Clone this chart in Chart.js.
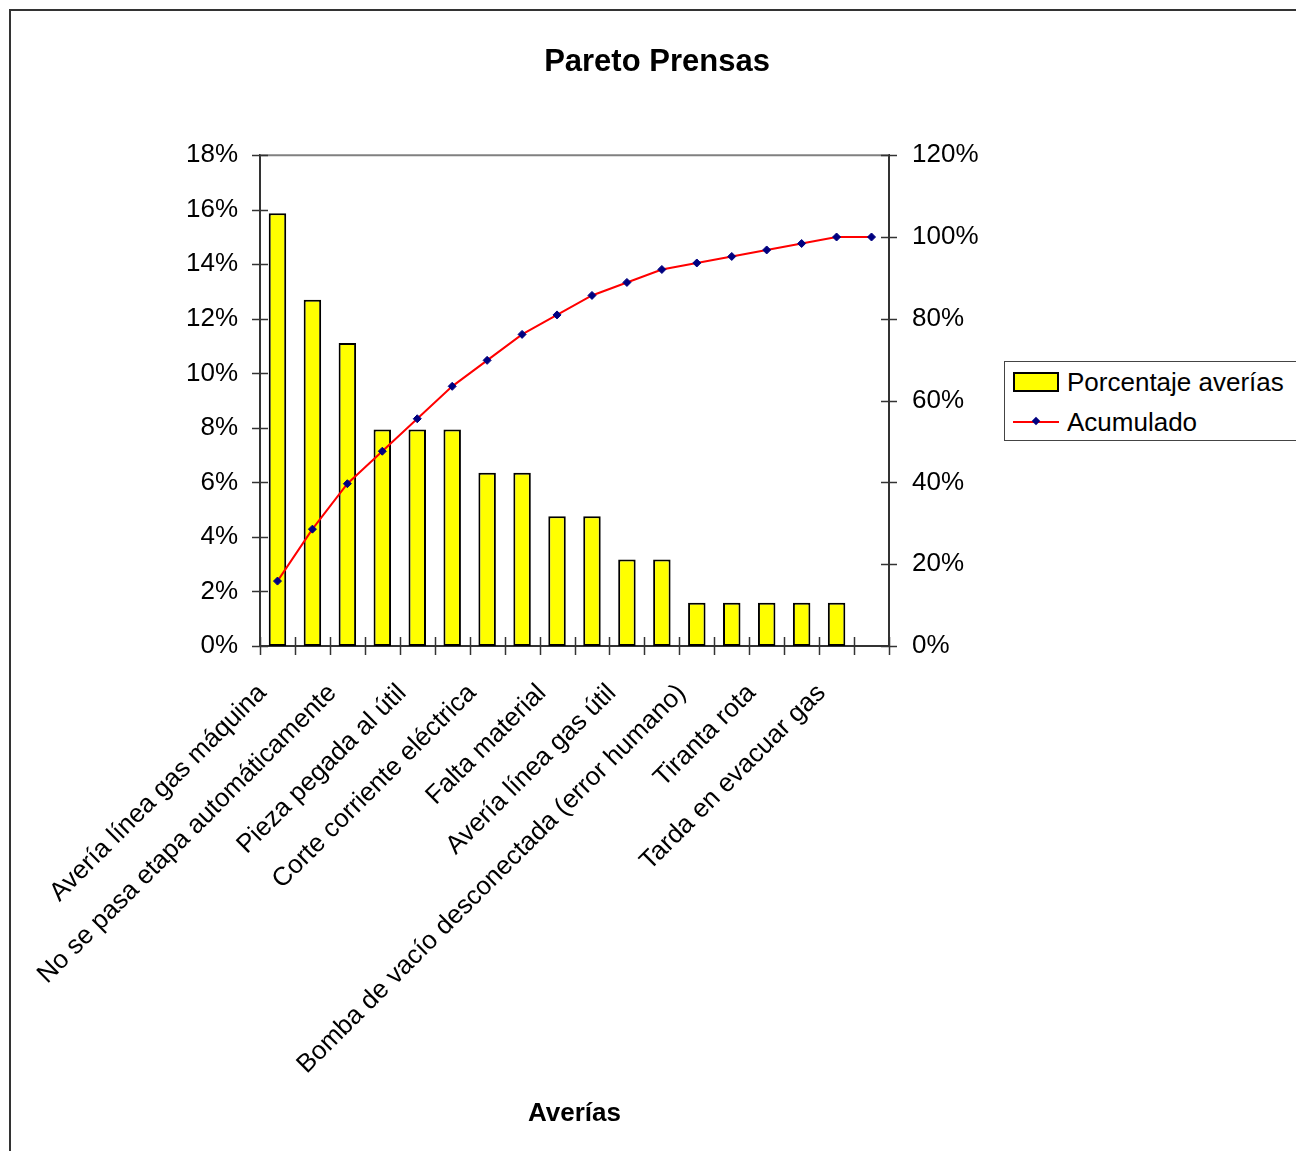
<!DOCTYPE html>
<html>
<head>
<meta charset="utf-8">
<script src="https://cdn.jsdelivr.net/npm/chart.js@4.4.0/dist/chart.umd.min.js"></script>
<style>
  html, body { margin: 0; padding: 0; background: #fff; overflow: hidden; }
  body { width: 1296px; height: 1151px; position: relative; font-family: Arial, "Liberation Sans", sans-serif; }
  #frame { position: absolute; left: 9px; top: 9px; width: 1400px; height: 1300px; border: 2px solid #333; pointer-events: none; }
  #chart { position: absolute; left: 0; top: 0; }
  #legend { position: absolute; left: 1004px; top: 361px; width: 330px; height: 78px; border: 1px solid #444; background: #fff; }
  .item { position: absolute; left: 8px; height: 30px; display: flex; align-items: center; font-size: 26px; color: #000; }
  .box { width: 42px; height: 16px; background: #ffff00; border: 2px solid #000; margin-right: 8px; }
  .ln { width: 46px; height: 2px; background: #ff0000; margin-right: 8px; position: relative; }
  .ln::after { content: ''; position: absolute; left: 20px; top: -3px; width: 6px; height: 6px; background: #000080; transform: rotate(45deg); }
</style>
</head>
<body>
<canvas id="chart" width="1296" height="1151"></canvas>
<div id="frame"></div>
<div id="legend">
  <div class="item" style="top:5px"><span class="box"></span>Porcentaje averías</div>
  <div class="item" style="top:45px"><span class="ln"></span>Acumulado</div>
</div>
<script>
// categories (only every other name is shown on the axis)
const categories = [
  'Avería línea gas máquina', '',
  'No se pasa etapa automáticamente', '',
  'Pieza pegada al útil', '',
  'Corte corriente eléctrica', '',
  'Falta material', '',
  'Avería línea gas útil', '',
  'Bomba de vacío desconectada (error humano)', '',
  'Tiranta rota', '',
  'Tarda en evacuar gas', ''
];
// % of failures per category
const porcentaje = [15.87, 12.70, 11.11, 7.94, 7.94, 7.94, 6.35, 6.35, 4.76, 4.76, 3.17, 3.17, 1.59, 1.59, 1.59, 1.59, 1.59, 0];
// cumulative %
const acumulado = [15.87, 28.57, 39.68, 47.62, 55.56, 63.49, 69.84, 76.19, 80.95, 85.71, 88.89, 92.06, 93.65, 95.24, 96.83, 98.41, 100, 100];

const FONT = 'Arial, "Liberation Sans", sans-serif';
Chart.defaults.font.family = FONT;
Chart.defaults.color = '#000';

// tick marks that cross the axes, plus the grey top edge of the plot area
const crossTicks = {
  id: 'crossTicks',
  afterDraw(chart) {
    const { ctx, chartArea: a, scales } = chart;
    const seg = (x1, y1, x2, y2) => { ctx.beginPath(); ctx.moveTo(x1, y1); ctx.lineTo(x2, y2); ctx.stroke(); };
    ctx.save();
    ctx.strokeStyle = '#808080';
    ctx.lineWidth = 2;
    seg(a.left, a.top, a.right, a.top);
    ctx.strokeStyle = '#333';
    ctx.lineWidth = 1.5;
    scales.y.ticks.forEach(t => {
      const y = Math.round(scales.y.getPixelForValue(t.value)) + 0.5;
      seg(a.left - 8, y, a.left + 8, y);
    });
    scales.y1.ticks.forEach(t => {
      const y = Math.round(scales.y1.getPixelForValue(t.value)) + 0.5;
      seg(a.right - 8, y, a.right + 8, y);
    });
    const step = (a.right - a.left) / categories.length;
    for (let i = 0; i <= categories.length; i++) {
      const x = Math.round(a.left + i * step) + 0.5;
      seg(x, a.bottom - 9, x, a.bottom + 9);
    }
    ctx.restore();
  }
};

new Chart(document.getElementById('chart'), {
  type: 'bar',
  data: {
    labels: categories,
    datasets: [
      {
        type: 'line',
        label: 'Acumulado',
        data: acumulado,
        yAxisID: 'y1',
        borderColor: '#ff0000',
        borderWidth: 2,
        tension: 0,
        pointStyle: 'rectRot',
        pointRadius: 4,
        pointBackgroundColor: '#000080',
        pointBorderColor: '#000080',
        pointBorderWidth: 1,
        order: 0
      },
      {
        label: 'Porcentaje averías',
        data: porcentaje,
        yAxisID: 'y',
        backgroundColor: '#ffff00',
        borderColor: '#000',
        borderWidth: 2,
        borderSkipped: false,
        barPercentage: 0.5,
        categoryPercentage: 1,
        order: 1
      }
    ]
  },
  options: {
    responsive: false,
    animation: false,
    layout: { padding: { left: 18, top: 0, right: 0, bottom: 0 } },
    plugins: {
      legend: { display: false },
      tooltip: { enabled: false },
      title: {
        display: true,
        text: 'Pareto Prensas',
        font: { size: 31, weight: 'bold' },
        color: '#000',
        padding: { top: 44, bottom: 74 }
      }
    },
    scales: {
      x: {
        grid: { display: false },
        border: { color: '#333', width: 2 },
        ticks: {
          autoSkip: false,
          maxRotation: 45,
          minRotation: 45,
          padding: 24,
          labelOffset: -15,
          font: { size: 26 },
          color: '#000'
        },
        title: {
          display: true,
          text: 'Averías',
          font: { size: 26, weight: 'bold' },
          color: '#000',
          padding: { top: 0, bottom: 22 }
        },
        afterFit(scale) { scale.height = 505; }
      },
      y: {
        position: 'left',
        min: 0,
        max: 18,
        grid: { display: false },
        border: { color: '#333', width: 2 },
        ticks: {
          stepSize: 2,
          padding: 14,
          font: { size: 26 },
          color: '#000',
          callback: v => v + '%'
        },
        afterFit(scale) { scale.width = 242; }
      },
      y1: {
        position: 'right',
        min: 0,
        max: 120,
        grid: { display: false },
        border: { color: '#333', width: 2 },
        ticks: {
          stepSize: 20,
          padding: 15,
          font: { size: 26 },
          color: '#000',
          callback: v => v + '%'
        },
        afterFit(scale) { scale.width = 407; }
      }
    }
  },
  plugins: [crossTicks]
});
</script>
</body>
</html>
